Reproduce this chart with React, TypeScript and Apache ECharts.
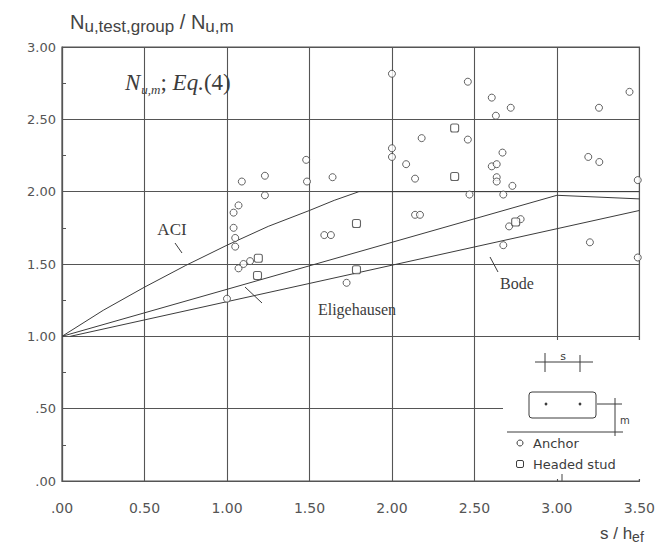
import React, { useEffect, useRef } from "react";
import * as echarts from "echarts";

const xTickLabels = [".00", "0.50", "1.00", "1.50", "2.00", "2.50", "3.00", "3.50"];
const yTickLabels = [".00", ".50", "1.00", "1.50", "2.00", "2.50", "3.00"];

// Anchors (circles)
const anchorS = [1.0, 1.04, 1.04, 1.05, 1.05, 1.07, 1.07, 1.09, 1.1, 1.14, 1.23, 1.23, 1.48, 1.485, 1.59, 1.63, 1.64, 1.725,
  2.0, 2.0, 2.0, 2.086, 2.14, 2.18, 2.14, 2.17, 2.46, 2.46, 2.47, 2.605, 2.63, 2.72, 2.67, 2.605, 2.635, 2.635, 2.635, 2.73,
  2.675, 2.71, 2.78, 2.675, 3.255, 3.44, 3.19, 3.257, 3.49, 3.2, 3.49];
const anchorN = [1.26, 1.75, 1.855, 1.62, 1.68, 1.905, 1.47, 2.07, 1.5, 1.52, 2.11, 1.975, 2.22, 2.07, 1.7, 1.7, 2.1, 1.37,
  2.815, 2.3, 2.24, 2.19, 2.09, 2.37, 1.84, 1.84, 2.76, 2.36, 1.98, 2.65, 2.525, 2.58, 2.27, 2.175, 2.19, 2.1, 2.07, 2.04,
  1.98, 1.76, 1.81, 1.63, 2.58, 2.69, 2.24, 2.205, 2.08, 1.65, 1.545];

// Headed studs (squares)
const studS = [1.19, 1.185, 1.785, 1.785, 2.38, 2.38, 2.75];
const studN = [1.54, 1.42, 1.78, 1.46, 2.44, 2.105, 1.79];

// Design curves
const aciS = [0, 0.25, 0.5, 0.75, 1.0, 1.25, 1.5, 1.65, 1.8, 3.5];
const aciN = [1.0, 1.18, 1.34, 1.49, 1.63, 1.76, 1.87, 1.94, 2.0, 2.0];
const eligeS = [0, 3.0, 3.5];
const eligeN = [1.0, 1.975, 1.95];
const bodeS = [0.05, 3.5];
const bodeN = [1.0, 1.87];

const zip = (a: number[], b: number[]) => a.map((v, i) => [v, b[i]]);

const ink = "#3c3c3c";
const gridInk = "#555";

export default function App() {
  const ref = useRef<HTMLDivElement>(null);
  useEffect(() => {
    const chart = echarts.init(ref.current!, null, { renderer: "svg" });
    const lineSeries = (name: string, xs: number[], ys: number[]) => ({
      name,
      type: "line",
      data: zip(xs, ys),
      symbol: "none",
      lineStyle: { color: ink, width: 1 },
      z: 2,
    });
    const option: any = {
      animation: false,
      backgroundColor: "#fff",
      grid: { left: 62, right: 13, top: 47, bottom: 66, show: true, borderColor: gridInk, borderWidth: 1.2 },
      xAxis: {
        type: "value",
        min: 0,
        max: 3.5,
        interval: 0.5,
        axisLine: { show: true, lineStyle: { color: gridInk, width: 1.2 } },
        axisTick: { show: false },
        splitLine: { show: true, lineStyle: { color: gridInk, width: 1.1 } },
        axisLabel: {
          margin: 20,
          color: "#555",
          fontFamily: "DejaVu Sans",
          fontSize: 14,
          formatter: (v: number) => xTickLabels[Math.round(v / 0.5)],
        },
      },
      yAxis: {
        type: "value",
        min: 0,
        max: 3,
        interval: 0.5,
        axisLine: { show: true, lineStyle: { color: gridInk, width: 1.2 } },
        axisTick: { show: true, inside: true, length: 3, lineStyle: { color: gridInk } },
        minorTick: { show: true, splitNumber: 2, length: 4, lineStyle: { color: gridInk } },
        splitLine: { show: true, lineStyle: { color: gridInk, width: 1.1 } },
        axisLabel: {
          margin: 6,
          color: "#555",
          fontFamily: "DejaVu Sans",
          fontSize: 13,
          formatter: (v: number) => yTickLabels[Math.round(v / 0.5)],
        },
      },
      series: [
        lineSeries("ACI", aciS, aciN),
        lineSeries("Eligehausen", eligeS, eligeN),
        lineSeries("Bode", bodeS, bodeN),
        {
          name: "Anchor",
          type: "scatter",
          data: zip(anchorS, anchorN),
          symbol: "circle",
          symbolSize: 7,
          itemStyle: { color: "#fff", borderColor: ink, borderWidth: 1 },
          z: 5,
        },
        {
          name: "Headed stud",
          type: "scatter",
          data: zip(studS, studN),
          symbol: "roundRect",
          symbolSize: 8,
          itemStyle: { color: "#fff", borderColor: ink, borderWidth: 1.1 },
          z: 5,
        },
      ],
      graphic: [
        // legend panel blanking the grid
        { type: "rect", shape: { x: 503, y: 340, width: 140, height: 139 }, style: { fill: "#fff" }, z: 50 },
        { type: "line", shape: { x1: 562, y1: 474, x2: 562, y2: 481 }, style: { stroke: gridInk, lineWidth: 1.1 }, z: 51 },
        // s dimension
        { type: "line", shape: { x1: 535, y1: 362, x2: 593, y2: 362 }, style: { stroke: ink, lineWidth: 1 }, z: 51 },
        { type: "line", shape: { x1: 545, y1: 353, x2: 545, y2: 372 }, style: { stroke: ink, lineWidth: 1 }, z: 51 },
        { type: "line", shape: { x1: 580, y1: 355, x2: 580, y2: 372 }, style: { stroke: ink, lineWidth: 1 }, z: 51 },
        { type: "text", x: 563, y: 356, style: { text: "s", font: "11px 'DejaVu Sans'", fill: ink, align: "center", verticalAlign: "middle" }, z: 51 },
        // plate
        { type: "rect", shape: { x: 529, y: 392, width: 67, height: 26, r: 3 }, style: { fill: "#fff", stroke: ink, lineWidth: 1 }, z: 51 },
        { type: "circle", shape: { cx: 546, cy: 404, r: 1.4 }, style: { fill: ink }, z: 52 },
        { type: "circle", shape: { cx: 580, cy: 404, r: 1.4 }, style: { fill: ink }, z: 52 },
        // m dimension
        { type: "line", shape: { x1: 597, y1: 404, x2: 622, y2: 404 }, style: { stroke: ink, lineWidth: 1 }, z: 51 },
        { type: "line", shape: { x1: 615, y1: 398, x2: 615, y2: 436 }, style: { stroke: ink, lineWidth: 1 }, z: 51 },
        { type: "line", shape: { x1: 507, y1: 432, x2: 623, y2: 432 }, style: { stroke: ink, lineWidth: 1 }, z: 51 },
        { type: "text", x: 620, y: 420, style: { text: "m", font: "10px 'DejaVu Sans'", fill: ink, align: "left", verticalAlign: "middle" }, z: 51 },
        // legend entries
        { type: "circle", shape: { cx: 520, cy: 443, r: 3 }, style: { fill: "#fff", stroke: ink, lineWidth: 1 }, z: 51 },
        { type: "text", x: 533, y: 443, style: { text: "Anchor", font: "13px 'DejaVu Sans'", fill: ink, align: "left", verticalAlign: "middle" }, z: 51 },
        { type: "rect", shape: { x: 516.5, y: 460.5, width: 7, height: 7, r: 1.5 }, style: { fill: "#fff", stroke: ink, lineWidth: 1 }, z: 51 },
        { type: "text", x: 533, y: 464, style: { text: "Headed stud", font: "13px 'DejaVu Sans'", fill: ink, align: "left", verticalAlign: "middle" }, z: 51 },
        // curve labels and pointers
        { type: "text", x: 172, y: 229, style: { text: "ACI", font: "17px 'Liberation Serif'", fill: ink, align: "center", verticalAlign: "middle" }, z: 51 },
        { type: "line", shape: { x1: 175, y1: 243, x2: 182, y2: 253 }, style: { stroke: ink, lineWidth: 1 }, z: 51 },
        { type: "text", x: 357, y: 309, style: { text: "Eligehausen", font: "16px 'Liberation Serif'", fill: ink, align: "center", verticalAlign: "middle" }, z: 51 },
        { type: "line", shape: { x1: 245, y1: 287, x2: 262, y2: 303 }, style: { stroke: ink, lineWidth: 1 }, z: 51 },
        { type: "text", x: 517, y: 283, style: { text: "Bode", font: "16px 'Liberation Serif'", fill: ink, align: "center", verticalAlign: "middle" }, z: 51 },
        { type: "line", shape: { x1: 490, y1: 257, x2: 498, y2: 272 }, style: { stroke: ink, lineWidth: 1 }, z: 51 },
        // in-plot title
        {
          type: "text",
          x: 125,
          y: 68,
          z: 51,
          style: {
            text: "{i|N}{s|u,m}{n|; }{i|Eq.}{n|(4)}",
            fill: ink,
            rich: {
              i: { fontFamily: "Liberation Serif", fontStyle: "italic", fontSize: 23, lineHeight: 28, verticalAlign: "middle", fill: ink },
              n: { fontFamily: "Liberation Serif", fontSize: 23, lineHeight: 28, verticalAlign: "middle", fill: ink },
              s: { fontFamily: "Liberation Serif", fontStyle: "italic", fontSize: 13, lineHeight: 28, padding: [12, 0, 0, 1], verticalAlign: "bottom", fill: ink },
            },
          },
        },
        // y axis title
        {
          type: "text",
          x: 70,
          y: 9,
          z: 51,
          style: {
            text: "{b|N}{s|u,test,group}{b| / N}{s|u,m}",
            fill: "#444",
            rich: {
              b: { fontFamily: "Liberation Sans", fontSize: 20, lineHeight: 26, verticalAlign: "middle", fill: "#444" },
              s: { fontFamily: "Liberation Sans", fontSize: 17, lineHeight: 26, padding: [9, 0, 0, 0], verticalAlign: "bottom", fill: "#444" },
            },
          },
        },
        // x axis title
        {
          type: "text",
          x: 600,
          y: 522,
          z: 51,
          style: {
            text: "{b|s / h}{s|ef}",
            fill: "#444",
            rich: {
              b: { fontFamily: "Liberation Sans", fontSize: 17, lineHeight: 22, verticalAlign: "middle", fill: "#444" },
              s: { fontFamily: "Liberation Sans", fontSize: 14, lineHeight: 22, padding: [8, 0, 0, 0], verticalAlign: "bottom", fill: "#444" },
            },
          },
        },
      ],
    };
    chart.setOption(option);
    return () => chart.dispose();
  }, []);
  return <div ref={ref} style={{ position: "fixed", left: 0, top: 0, width: 658, height: 547 }} />;
}
